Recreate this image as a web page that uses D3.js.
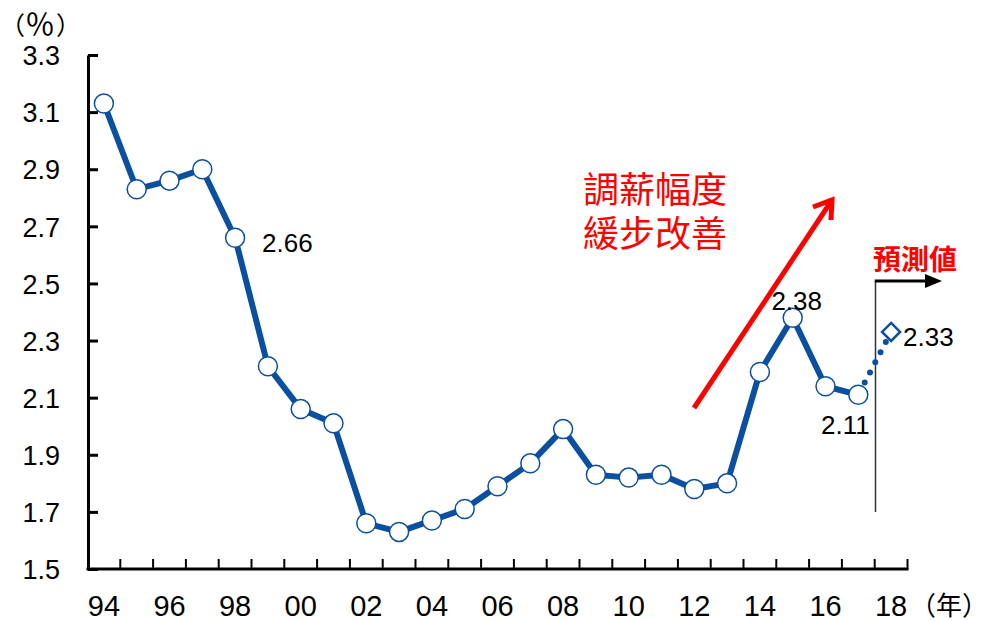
<!DOCTYPE html>
<html>
<head>
<meta charset="utf-8">
<script src="https://cdn.jsdelivr.net/npm/d3@7/dist/d3.min.js"></script>
<style>
  html, body { margin: 0; padding: 0; background: #fff; }
  svg { display: block; }
</style>
</head>
<body>
<svg id="chart" width="998" height="621"></svg>
<script>
// Annual wage-increase rate, 1994–2017 actual, 2018 forecast
const years = d3.range(1994, 2019);
const actualYears = d3.range(1994, 2018);
const actualValues = [3.13, 2.83, 2.86, 2.90, 2.66, 2.21, 2.06, 2.01, 1.66, 1.63, 1.67, 1.71,
                      1.79, 1.87, 1.99, 1.83, 1.82, 1.83, 1.78, 1.80, 2.19, 2.38, 2.14, 2.11];
const forecastYear = 2018;
const forecastValue = 2.33;
const yTicks = [1.5, 1.7, 1.9, 2.1, 2.3, 2.5, 2.7, 2.9, 3.1, 3.3];
const xLabelYears = d3.range(1994, 2019, 2);
const noteLines = ["調薪幅度", "緩步改善"];
const forecastLabel = "預測値";
const yUnitParts = ["（", "％", "）"];
const xUnit = "（年）";

const blue = "#0b4fa0";
const svg = d3.select("#chart");

const x = d3.scaleBand().domain(years).range([87.5, 907.5]);
const y = d3.scaleLinear().domain([1.5, 3.3]).range([569, 55]);
const cx = yr => x(yr) + x.bandwidth() / 2;

// y axis with inward ticks
const yAxis = svg.append("g")
  .attr("transform", "translate(88,0)")
  .call(d3.axisLeft(y).tickValues(yTicks).tickFormat(d3.format(".1f"))
    .tickSizeInner(-10).tickSizeOuter(0).tickPadding(28));
yAxis.select(".domain").attr("stroke", "#000").attr("stroke-width", 3);
yAxis.selectAll(".tick line").attr("stroke", "#000").attr("stroke-width", 3);
yAxis.selectAll(".tick text")
  .attr("font-family", "'Liberation Sans', Arial, sans-serif")
  .attr("font-size", 27).attr("fill", "#000").attr("dy", "0.36em");

// x axis: labels on every other year, ticks on band boundaries
const xAxis = svg.append("g")
  .attr("transform", "translate(0,569)")
  .call(d3.axisBottom(x).tickValues(xLabelYears)
    .tickFormat(d => String(d).slice(2)).tickSize(0).tickPadding(26));
xAxis.select(".domain").remove();
xAxis.selectAll(".tick text")
  .attr("font-family", "'Liberation Sans', Arial, sans-serif")
  .attr("font-size", 29).attr("fill", "#000");

const bounds = years.slice(1).map(yr => x(yr)).concat([x.range()[1]]);
svg.append("g").selectAll("line").data(bounds).join("line")
  .attr("x1", d => d).attr("x2", d => d)
  .attr("y1", 569).attr("y2", 559)
  .attr("stroke", "#000").attr("stroke-width", 2);
svg.append("line")
  .attr("x1", 86.5).attr("x2", x.range()[1] + 1)
  .attr("y1", 569).attr("y2", 569)
  .attr("stroke", "#000").attr("stroke-width", 3);

// unit labels (parts placed individually so the full-width brackets keep their width)
svg.append("g").selectAll("text").data(yUnitParts).join("text")
  .attr("x", (d, i) => [0, 25, 56][i]).attr("y", 35)
  .attr("font-family", "'Noto Sans CJK JP', sans-serif")
  .attr("font-size", (d, i) => i === 1 ? 30 : 25)
  .attr("fill", "#000").text(d => d);
svg.append("text").attr("x", 910).attr("y", 615)
  .attr("font-family", "'Noto Sans CJK JP', sans-serif").attr("font-size", 26)
  .attr("fill", "#000").text(xUnit);

// forecast marker: vertical divider and arrow
const divX = x(forecastYear) + 0.8;
svg.append("line").attr("x1", divX).attr("x2", divX).attr("y1", 281).attr("y2", 512)
  .attr("stroke", "#333").attr("stroke-width", 1.5);
svg.append("line").attr("x1", divX - 0.75).attr("x2", 928).attr("y1", 281).attr("y2", 281)
  .attr("stroke", "#000").attr("stroke-width", 3);
svg.append("path").attr("d", "M925,274 L942,281 L925,288 Z").attr("fill", "#000");
svg.append("text").attr("x", 915).attr("y", 270).attr("text-anchor", "middle")
  .attr("font-family", "'Noto Sans CJK TC', sans-serif").attr("font-weight", 700)
  .attr("font-size", 28).attr("fill", "#ff0000").text(forecastLabel);

// red trend arrow and note
svg.append("line").attr("x1", 694).attr("y1", 408).attr("x2", 832).attr("y2", 200)
  .attr("stroke", "#ff0000").attr("stroke-width", 5).attr("stroke-linecap", "butt");
svg.append("path").attr("d", "M813,207 L832,200 L831,220")
  .attr("fill", "none").attr("stroke", "#ff0000").attr("stroke-width", 5)
  .attr("stroke-linejoin", "miter");
svg.append("g").selectAll("text").data(noteLines).join("text")
  .attr("x", 655).attr("y", (d, i) => 203 + i * 44).attr("text-anchor", "middle")
  .attr("font-family", "'Noto Sans CJK TC', sans-serif").attr("font-size", 36)
  .attr("fill", "#ff0000").text(d => d);

// actual series
const pts = actualYears.map((yr, i) => ({ yr, v: actualValues[i] }));
svg.append("path").datum(pts)
  .attr("d", d3.line().x(d => cx(d.yr)).y(d => y(d.v)))
  .attr("fill", "none").attr("stroke", blue).attr("stroke-width", 6)
  .attr("stroke-linejoin", "round");

// dotted forecast segment
const last = pts[pts.length - 1];
svg.append("path").datum([last, { yr: forecastYear, v: forecastValue }])
  .attr("d", d3.line().x(d => cx(d.yr)).y(d => y(d.v)))
  .attr("fill", "none").attr("stroke", blue).attr("stroke-width", 6)
  .attr("stroke-linecap", "round").attr("stroke-dasharray", "0 11.4")
  .attr("stroke-dashoffset", -2.5);

svg.append("g").selectAll("circle").data(pts).join("circle")
  .attr("cx", d => cx(d.yr)).attr("cy", d => y(d.v)).attr("r", 9.5)
  .attr("fill", "#fff").attr("stroke", blue).attr("stroke-width", 1.5);

// forecast diamond
const fx = cx(forecastYear), fy = y(forecastValue);
svg.append("path")
  .attr("d", `M${fx},${fy - 9} L${fx + 9},${fy} L${fx},${fy + 9} L${fx - 9},${fy} Z`)
  .attr("fill", "#fff").attr("stroke", blue).attr("stroke-width", 2.5);

// value labels
const labelFont = "'Liberation Sans', Arial, sans-serif";
const lab = svg.append("g").attr("font-family", labelFont).attr("font-size", 26).attr("fill", "#000");
const byYear = new Map(pts.map(d => [d.yr, d.v]));
lab.append("text").attr("x", cx(1998) + 27).attr("y", y(byYear.get(1998)) + 14)
  .text(byYear.get(1998).toFixed(2));
lab.append("text").attr("x", cx(2015) + 4).attr("y", y(byYear.get(2015)) - 8)
  .attr("text-anchor", "middle").text(byYear.get(2015).toFixed(2));
lab.append("text").attr("x", cx(2017) - 13).attr("y", y(byYear.get(2017)) + 39)
  .attr("text-anchor", "middle").text(byYear.get(2017).toFixed(2));
lab.append("text").attr("x", fx + 12).attr("y", fy + 14)
  .text(forecastValue.toFixed(2));
</script>
</body>
</html>
